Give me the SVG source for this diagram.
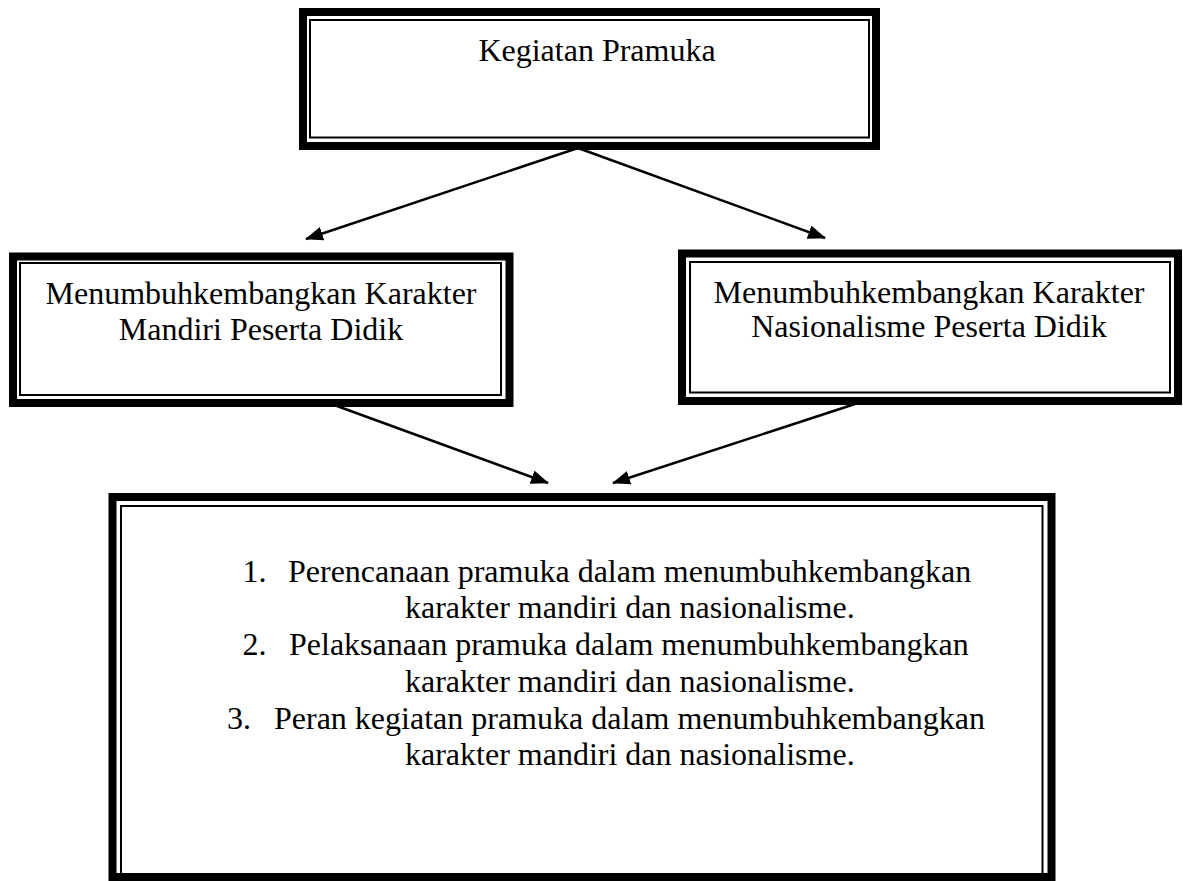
<svg xmlns="http://www.w3.org/2000/svg" width="1183" height="881" viewBox="0 0 1183 881">
<style>
.outer{fill:none;stroke:#000;stroke-width:8}
.inner{fill:none;stroke:#000;stroke-width:2}
.t{font-family:"Liberation Serif","Times New Roman",serif;font-size:32px;fill:#000}
.c{stroke:#000;stroke-width:2.5;fill:none;marker-end:url(#ah)}
</style>
<defs>
<marker id="ah" viewBox="0 0 18 14" refX="17" refY="7" markerWidth="18" markerHeight="14" markerUnits="userSpaceOnUse" orient="auto">
<path d="M0,0 L18,7 L0,14 z" fill="#000"/>
</marker>
</defs>
<rect width="1183" height="881" fill="#fff"/>
<g id="node-kegiatan">
<rect class="outer" x="303" y="12" width="573" height="134"/>
<rect class="inner" x="310" y="20" width="559" height="117.5"/>
<text class="t" x="597" y="61" text-anchor="middle">Kegiatan Pramuka</text>
</g>
<g id="node-mandiri">
<rect class="outer" x="13" y="256.5" width="496.5" height="146.5"/>
<rect class="inner" x="20" y="263" width="481" height="132"/>
<text class="t" x="261" y="304" text-anchor="middle">Menumbuhkembangkan Karakter</text>
<text class="t" x="261" y="340" text-anchor="middle">Mandiri Peserta Didik</text>
</g>
<g id="node-nasionalisme">
<rect class="outer" x="682" y="253.5" width="496" height="147.5"/>
<rect class="inner" x="690" y="262" width="480" height="130.5"/>
<text class="t" x="929" y="303" text-anchor="middle">Menumbuhkembangkan Karakter</text>
<text class="t" x="929" y="337" text-anchor="middle">Nasionalisme Peserta Didik</text>
</g>
<g id="node-fokus">
<rect class="outer" x="112.5" y="497" width="939" height="380"/>
<rect class="inner" x="121" y="506" width="921.5" height="371"/>
<text class="t" x="242.5" y="581.7">1.</text>
<text class="t" x="288" y="581.7">Perencanaan pramuka dalam menumbuhkembangkan</text>
<text class="t" x="405" y="618.4">karakter mandiri dan nasionalisme.</text>
<text class="t" x="242.5" y="655.1">2.</text>
<text class="t" x="289" y="655.1">Pelaksanaan pramuka dalam menumbuhkembangkan</text>
<text class="t" x="405" y="691.8">karakter mandiri dan nasionalisme.</text>
<text class="t" x="227" y="728.5">3.</text>
<text class="t" x="274" y="728.5">Peran kegiatan pramuka dalam menumbuhkembangkan</text>
<text class="t" x="405" y="765.2">karakter mandiri dan nasionalisme.</text>
</g>
<g id="connectors">
<line class="c" x1="578" y1="148" x2="306" y2="239"/>
<line class="c" x1="578" y1="148" x2="825" y2="238"/>
<line class="c" x1="337" y1="406" x2="548" y2="483"/>
<line class="c" x1="855" y1="404" x2="613" y2="483"/>
</g>
</svg>
